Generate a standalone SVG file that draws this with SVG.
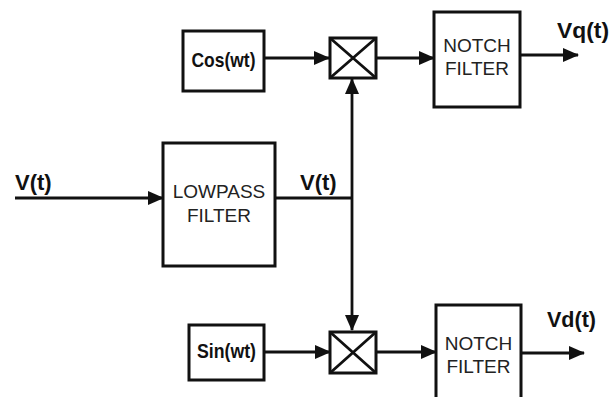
<svg xmlns="http://www.w3.org/2000/svg" width="614" height="397" viewBox="0 0 614 397">
<defs>
<marker id="arr" markerUnits="userSpaceOnUse" markerWidth="16" markerHeight="14" refX="15" refY="7" orient="auto">
<path d="M0,0 L16,7 L0,14 Z" fill="#111"/>
</marker>
<style>
.box{fill:#fff;stroke:#111;stroke-width:3}
.ln{fill:none;stroke:#111;stroke-width:2.8}
.lbl{font-family:"Liberation Sans",Arial,sans-serif;font-weight:bold;font-size:22px;fill:#111}
.blk{font-family:"Liberation Sans",Arial,sans-serif;font-size:19px;fill:#222;text-anchor:middle}
.src{font-family:"Liberation Sans",Arial,sans-serif;font-size:21px;font-weight:bold;fill:#111;text-anchor:middle}
</style>
</defs>
<rect width="614" height="397" fill="#fff"/>
<g id="connectors">
<line class="ln" x1="15" y1="198" x2="163" y2="198" marker-end="url(#arr)"/>
<line class="ln" x1="275" y1="198" x2="352" y2="198"/>
<line class="ln" x1="352" y1="198" x2="352" y2="79" marker-end="url(#arr)"/>
<line class="ln" x1="352" y1="198" x2="352" y2="330" marker-end="url(#arr)"/>
<line class="ln" x1="264" y1="58" x2="329" y2="58" marker-end="url(#arr)"/>
<line class="ln" x1="376" y1="58" x2="434" y2="58" marker-end="url(#arr)"/>
<line class="ln" x1="520" y1="55" x2="578" y2="55" marker-end="url(#arr)"/>
<line class="ln" x1="264" y1="352" x2="330" y2="352" marker-end="url(#arr)"/>
<line class="ln" x1="376" y1="352" x2="436" y2="352" marker-end="url(#arr)"/>
<line class="ln" x1="521" y1="353" x2="584" y2="353" marker-end="url(#arr)"/>
</g>
<g id="labels">
<text class="lbl" x="15" y="190">V(t)</text>
<text class="lbl" x="300" y="190">V(t)</text>
<text class="lbl" x="557" y="38" textLength="52" lengthAdjust="spacingAndGlyphs">Vq(t)</text>
<text class="lbl" x="547" y="327" textLength="49" lengthAdjust="spacingAndGlyphs">Vd(t)</text>
</g>
<g id="cos">
<rect class="box" x="183" y="31" width="81" height="60"/>
<text class="src" x="223.5" y="67" textLength="64" lengthAdjust="spacingAndGlyphs">Cos(wt)</text>
</g>
<g id="sin">
<rect class="box" x="189" y="325" width="75" height="55"/>
<text class="src" x="226.5" y="358" font-size="20" textLength="59" lengthAdjust="spacingAndGlyphs">Sin(wt)</text>
</g>
<g id="mult1">
<rect class="box" x="330" y="38" width="46" height="40"/>
<path class="ln" d="M330,38 L376,78 M376,38 L330,78"/>
</g>
<g id="mult2">
<rect class="box" x="330" y="332" width="46" height="41"/>
<path class="ln" d="M330,332 L376,373 M376,332 L330,373"/>
</g>
<g id="lowpass">
<rect class="box" x="163" y="143" width="112" height="123"/>
<text class="blk" x="219" y="198">LOWPASS</text>
<text class="blk" x="219" y="222">FILTER</text>
</g>
<g id="notch1">
<rect class="box" x="434" y="12" width="86" height="95"/>
<text class="blk" x="477" y="52">NOTCH</text>
<text class="blk" x="477" y="75">FILTER</text>
</g>
<g id="notch2">
<rect class="box" x="436" y="305" width="85" height="100"/>
<text class="blk" x="478.5" y="350">NOTCH</text>
<text class="blk" x="478.5" y="373">FILTER</text>
</g>
</svg>
